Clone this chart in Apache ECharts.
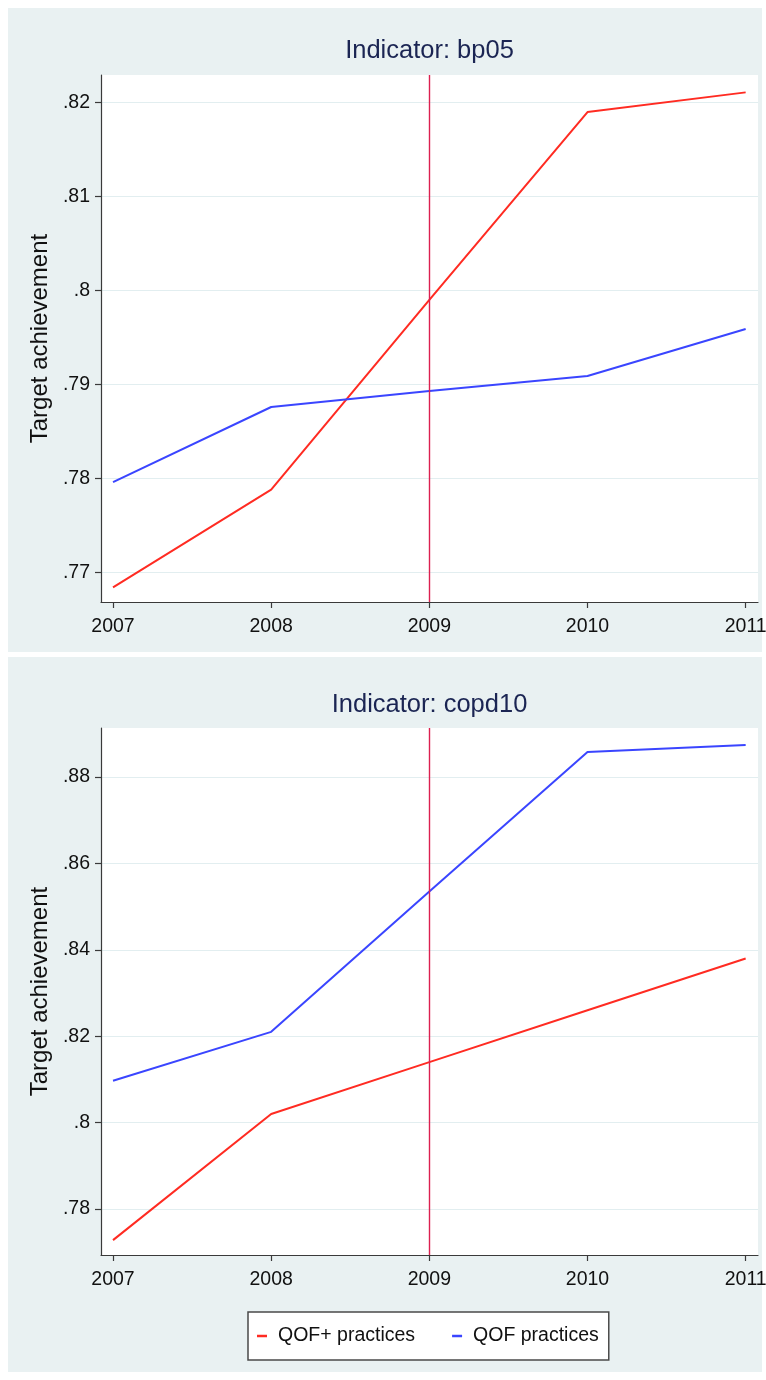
<!DOCTYPE html>
<html><head><meta charset="utf-8">
<script src="https://cdn.jsdelivr.net/npm/echarts@6/dist/echarts.min.js"></script>
<style>html,body{margin:0;padding:0;background:#fff}#c{width:766px;height:1380px}</style>
</head><body><div id="c"></div>
<script>
// ---- data ----
const years = [2007, 2008, 2009, 2010, 2011];
const bp05QofPlus = [0.7684, 0.7788, 0.7990, 0.8190, 0.8211];
const bp05Qof = [0.7796, 0.7876, 0.7893, 0.7909, 0.7959];
const copd10QofPlus = [0.7728, 0.8020, 0.8140, 0.8260, 0.8380];
const copd10Qof = [0.8097, 0.8210, 0.8535, 0.8858, 0.8874];
const bp05Ticks = [0.77, 0.78, 0.79, 0.80, 0.81, 0.82];
const copd10Ticks = [0.78, 0.80, 0.82, 0.84, 0.86, 0.88];
const titles = ['Indicator: bp05', 'Indicator: copd10'];
const seriesNames = ['QOF+ practices', 'QOF practices'];
const yAxisTitle = 'Target achievement';
const policyYear = 2009;

// ---- styling ----
const SANS = "'Liberation Sans', Arial, Helvetica, sans-serif";
const RED = '#ff2b22';
const BLUE = '#3a45ff';
const VLINE = '#dc2050';
const PANEL = '#e9f1f2';
const GRIDLINE = '#e2eef0';

const fmt = v => String(+(+v).toFixed(2)).replace(/^0/, '');
const pairs = arr => years.map((y, i) => [y, arr[i]]);

const grids = [
  {left: 101, top: 75, width: 657, height: 527},
  {left: 101, top: 728, width: 657, height: 527}
];
const yRanges = [[0.76684, 0.82295], [0.76935, 0.89134]];
const yTicks = [bp05Ticks, copd10Ticks];

const option = {
  animation: false,
  backgroundColor: '#fff',
  graphic: [
    {type: 'rect', shape: {x: 8, y: 8, width: 754, height: 644}, style: {fill: PANEL}, z: -100, silent: true},
    {type: 'rect', shape: {x: 8, y: 657, width: 754, height: 715}, style: {fill: PANEL}, z: -100, silent: true}
  ],
  title: titles.map((t, i) => ({
    text: t, left: 429.5, textAlign: 'center', top: i === 0 ? 38 : 692, padding: 0,
    textStyle: {fontFamily: SANS, fontSize: 25.5, fontWeight: 'normal', color: '#1b2553'}
  })),
  legend: {
    data: seriesNames, left: 248, top: 1312, orient: 'horizontal',
    backgroundColor: '#fff', borderColor: '#4a4a4a', borderWidth: 1.5, borderRadius: 0,
    padding: [14, 10, 14, 9], itemGap: 37, itemWidth: 10, itemHeight: 2.5, icon: 'rect',
    textStyle: {fontFamily: SANS, fontSize: 19.5, color: '#111', padding: [0, 0, 0, 6]}
  },
  grid: grids.map(g => Object.assign({show: true, backgroundColor: '#fff', borderWidth: 0, outerBoundsMode: 'none', containLabel: false}, g)),
  xAxis: grids.map((g, i) => ({
    type: 'value', gridIndex: i, min: 2006.924, max: 2011.078,
    axisLine: {show: true, onZero: false, lineStyle: {color: '#3a3a3a', width: 1.2}},
    axisTick: {show: true, length: 6, customValues: years, lineStyle: {color: '#3a3a3a', width: 1.2}},
    axisLabel: {customValues: years, margin: 15, fontFamily: SANS, fontSize: 19.5, color: '#111', formatter: v => String(v)},
    splitLine: {show: false}
  })),
  yAxis: grids.map((g, i) => ({
    type: 'value', gridIndex: i, min: yRanges[i][0], max: yRanges[i][1],
    name: yAxisTitle, nameLocation: 'middle', nameGap: 49,
    nameTextStyle: {fontFamily: SANS, fontSize: 24, color: '#111'},
    axisLine: {show: true, lineStyle: {color: '#3a3a3a', width: 1.2}},
    axisTick: {show: true, length: 6, customValues: yTicks[i], lineStyle: {color: '#3a3a3a', width: 1.2}},
    axisLabel: {customValues: yTicks[i], margin: 11, fontFamily: SANS, fontSize: 19.5, color: '#111', formatter: fmt},
    splitLine: {show: true, lineStyle: {color: GRIDLINE, width: 1.2}}
  })),
  series: [
    {name: seriesNames[0], type: 'line', xAxisIndex: 0, yAxisIndex: 0, data: pairs(bp05QofPlus),
     showSymbol: false, symbol: 'none', lineStyle: {color: RED, width: 2}, itemStyle: {color: RED}, z: 3,
     markLine: {silent: true, symbol: 'none', label: {show: false}, lineStyle: {color: VLINE, width: 1.4, type: 'solid'}, data: [{xAxis: policyYear}]}},
    {name: seriesNames[1], type: 'line', xAxisIndex: 0, yAxisIndex: 0, data: pairs(bp05Qof),
     showSymbol: false, symbol: 'none', lineStyle: {color: BLUE, width: 2}, itemStyle: {color: BLUE}, z: 3},
    {name: seriesNames[0], type: 'line', xAxisIndex: 1, yAxisIndex: 1, data: pairs(copd10QofPlus),
     showSymbol: false, symbol: 'none', lineStyle: {color: RED, width: 2}, itemStyle: {color: RED}, z: 3,
     markLine: {silent: true, symbol: 'none', label: {show: false}, lineStyle: {color: VLINE, width: 1.4, type: 'solid'}, data: [{xAxis: policyYear}]}},
    {name: seriesNames[1], type: 'line', xAxisIndex: 1, yAxisIndex: 1, data: pairs(copd10Qof),
     showSymbol: false, symbol: 'none', lineStyle: {color: BLUE, width: 2}, itemStyle: {color: BLUE}, z: 3}
  ]
};
const chart = echarts.init(document.getElementById('c'), null, {renderer: 'canvas'});
chart.setOption(option);
</script></body></html>
